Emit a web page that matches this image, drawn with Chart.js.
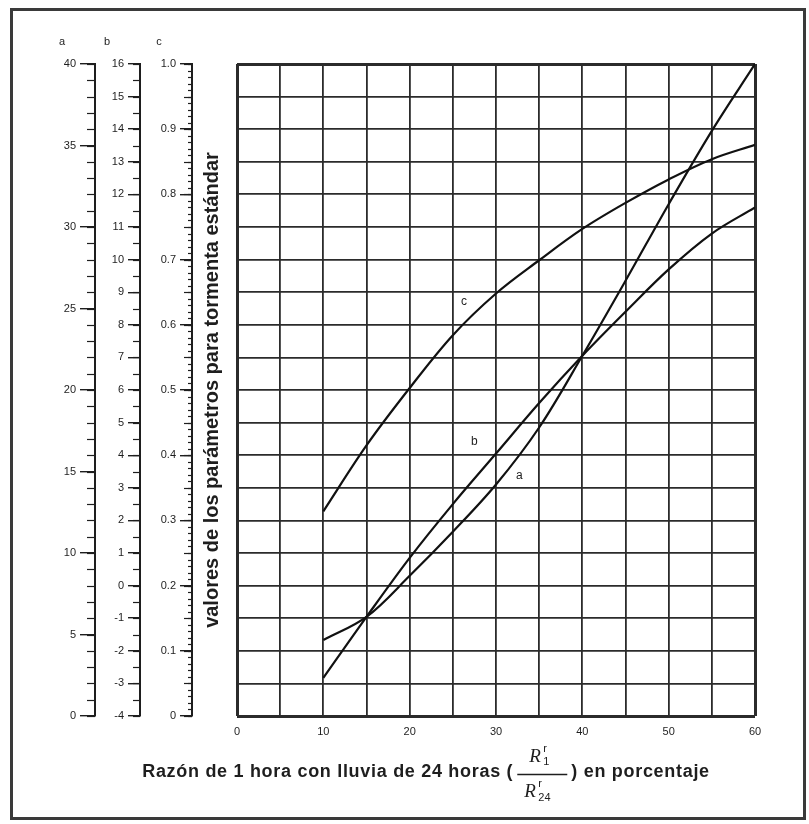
<!DOCTYPE html>
<html lang="es">
<head>
<meta charset="UTF-8">
<title>Parámetros para tormenta estándar</title>
<script src="https://cdn.jsdelivr.net/npm/chart.js@4.4.1/dist/chart.umd.min.js"></script>
<style>
  body { margin: 0; background: #fff; }
  #frame { position: absolute; left: 10px; top: 8px; width: 790px; height: 806px; border: 3px solid #3a3a3a; background: #fff; }
  canvas { display: block; }
</style>
</head>
<body>
<div id="frame"><canvas id="chart" width="790" height="806"></canvas></div>
<script>
// razón R1/R24 en porcentaje
const ratios = [10, 15, 20, 25, 30, 35, 40, 45, 50, 55, 60];
const aValues = [4.66, 6.08, 8.6, 11.3, 14.2, 17.7, 22.1, 26.7, 31.4, 35.9, 40.0];
const bValues = [-2.83, -0.96, 0.85, 2.5, 4.05, 5.6, 7.05, 8.4, 9.7, 10.8, 11.6];
const cValues = [0.314, 0.415, 0.503, 0.584, 0.648, 0.699, 0.747, 0.787, 0.823, 0.854, 0.876];
// etiquetas de las escalas
const xTicks = [0, 10, 20, 30, 40, 50, 60];
const aTicks = [0, 5, 10, 15, 20, 25, 30, 35, 40];
const bTicks = [-4, -3, -2, -1, 0, 1, 2, 3, 4, 5, 6, 7, 8, 9, 10, 11, 12, 13, 14, 15, 16];
const cTicks = [0, 0.1, 0.2, 0.3, 0.4, 0.5, 0.6, 0.7, 0.8, 0.9, 1.0];

const ink = '#1e1e1e';
const tickFont = { family: 'Liberation Sans', size: 11 };

function near(list, v) {
  return list.some(t => Math.abs(t - v) < 1e-6);
}

function sideAxis(min, max, step, weight, width, tl, labels, fmt) {
  return {
    position: 'left', weight: weight, min: min, max: max,
    border: { display: true, color: ink, width: 2 },
    grid: { drawOnChartArea: false, drawTicks: true, tickLength: tl, color: ink, lineWidth: 1.4 },
    ticks: {
      stepSize: step, padding: 4, color: ink, font: tickFont, autoSkip: false,
      callback: v => near(labels, v) ? fmt(v) : ''
    },
    afterFit(scale) { scale.width = width; }
  };
}

// marcas menores, letras de escala, letras de curvas y título X
const extras = {
  id: 'extras',
  afterDraw(chart) {
    const ctx = chart.ctx;
    ctx.save();
    ctx.strokeStyle = ink;
    ctx.lineWidth = 1.2;
    [['ya', 1, 8], ['yb', 0.5, 7], ['yc', 0.05, 8], ['yc', 0.01, 4]].forEach(([id, step, len]) => {
      const s = chart.scales[id];
      const n = Math.round((s.max - s.min) / step);
      for (let i = 0; i <= n; i++) {
        const y = Math.round(s.getPixelForValue(s.min + i * step)) + 0.5;
        ctx.beginPath();
        ctx.moveTo(s.right - len, y);
        ctx.lineTo(s.right, y);
        ctx.stroke();
      }
    });

    ctx.fillStyle = ink;
    ctx.font = '11px "Liberation Sans"';
    ctx.textAlign = 'center';
    ctx.textBaseline = 'middle';
    [['ya', 'a'], ['yb', 'b'], ['yc', 'c']].forEach(([id, t]) => {
      ctx.fillText(t, chart.scales[id].right - 33, 31);
    });

    const sx = chart.scales.x, sg = chart.scales.yg;
    ctx.font = '12px "Liberation Sans"';
    [['c', 26.3, 12.7], ['b', 27.5, 8.4], ['a', 32.7, 7.36]].forEach(([t, x, g]) => {
      ctx.fillText(t, sx.getPixelForValue(x), sg.getPixelForValue(g));
    });

    // título del eje X con la fracción R1/R24
    const left = 'Razón de 1 hora con lluvia de 24 horas (';
    const right = ') en porcentaje';
    ctx.font = 'bold 18px "Liberation Sans"';
    ctx.letterSpacing = '0.7px';
    ctx.textAlign = 'left';
    const wl = ctx.measureText(left).width;
    const wr = ctx.measureText(right).width;
    const fw = 50;
    const total = wl + fw + wr + 8;
    const x0 = 413 - total / 2;
    const ym = 761;
    ctx.fillText(left, x0, ym);
    ctx.fillText(right, x0 + wl + fw + 8, ym);
    ctx.letterSpacing = '0px';
    const fx = x0 + wl + 4;
    ctx.font = 'italic 19px "Liberation Serif"';
    ctx.fillText('R', fx + 12, ym - 15);
    ctx.fillText('R', fx + 7, ym + 20);
    ctx.font = '11px "Liberation Sans"';
    ctx.fillText('r', fx + 26, ym - 23);
    ctx.fillText('1', fx + 26, ym - 10);
    ctx.fillText('r', fx + 21, ym + 12);
    ctx.fillText('24', fx + 21, ym + 26);
    ctx.beginPath();
    ctx.lineWidth = 1.4;
    ctx.moveTo(fx, ym + 2.5);
    ctx.lineTo(fx + fw, ym + 2.5);
    ctx.stroke();
    ctx.restore();
  }
};

const lineStyle = {
  borderColor: '#111', borderWidth: 2.2, pointRadius: 0, fill: false, tension: 0.35
};

const edge = (lo, hi) => c => (c.tick && (Math.abs(c.tick.value - lo) < 1e-6 || Math.abs(c.tick.value - hi) < 1e-6)) ? 3 : 1.8;

new Chart(document.getElementById('chart'), {
  type: 'line',
  data: {
    datasets: [
      Object.assign({ label: 'a', yAxisID: 'ya', data: ratios.map((x, i) => ({ x: x, y: aValues[i] })) }, lineStyle),
      Object.assign({ label: 'b', yAxisID: 'yb', data: ratios.map((x, i) => ({ x: x, y: bValues[i] })) }, lineStyle),
      Object.assign({ label: 'c', yAxisID: 'yc', data: ratios.map((x, i) => ({ x: x, y: cValues[i] })) }, lineStyle)
    ]
  },
  options: {
    responsive: false,
    animation: false,
    layout: { padding: { left: 0, top: 53, right: 48, bottom: 0 } },
    plugins: { legend: { display: false }, tooltip: { enabled: false } },
    scales: {
      x: {
        type: 'linear', min: 0, max: 60,
        border: { display: false },
        grid: { color: '#2b2b2b', lineWidth: edge(0, 60), drawTicks: false },
        ticks: {
          stepSize: 5, autoSkip: false, padding: 9, color: ink, font: tickFont,
          callback: v => near(xTicks, v) ? v : ''
        },
        afterFit(scale) { scale.height = 101; }
      },
      ya: sideAxis(0, 40, 5, 4, 82, 15, aTicks, v => String(v)),
      yb: sideAxis(-4, 16, 1, 3, 45, 12, bTicks, v => String(v)),
      yc: sideAxis(0, 1, 0.1, 2, 52, 12, cTicks, v => v === 0 ? '0' : v.toFixed(1)),
      yg: {
        position: 'left', weight: 1, min: 0, max: 20,
        border: { display: false },
        grid: { color: '#2b2b2b', lineWidth: edge(0, 20), drawTicks: false },
        ticks: { stepSize: 1, display: false, autoSkip: false },
        title: {
          display: true, text: 'valores de los parámetros para tormenta estándar',
          color: ink, font: { family: 'Liberation Sans', size: 20, weight: 'bold' },
          padding: { top: 8, bottom: 0 }
        },
        afterFit(scale) { scale.width = 45; }
      }
    }
  },
  plugins: [extras]
});
</script>
</body>
</html>
